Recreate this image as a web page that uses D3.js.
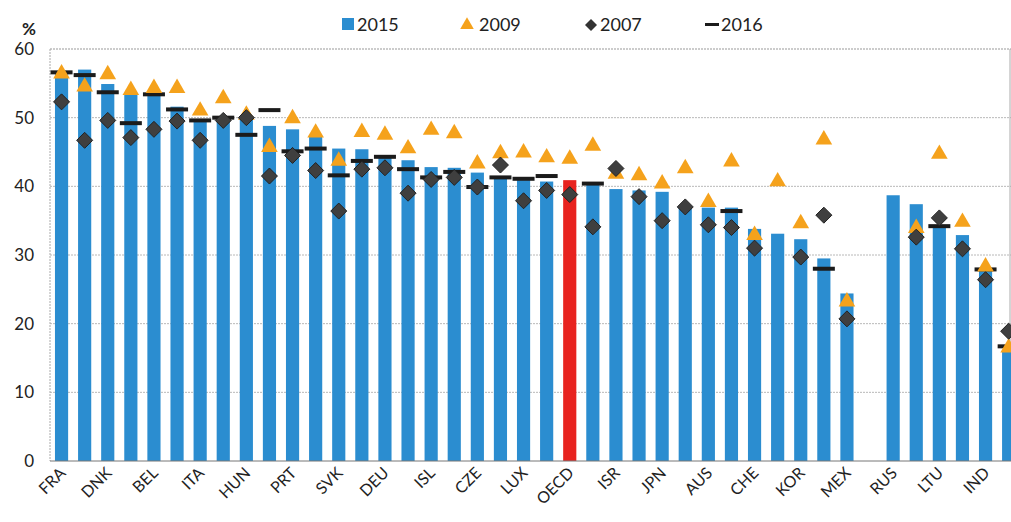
<!DOCTYPE html>
<html>
<head>
<meta charset="utf-8">
<script src="https://cdn.jsdelivr.net/npm/d3@7"></script>
<style>
  body { margin: 0; background: #fff; }
  text { font-family: Lato, "Open Sans", sans-serif; }
</style>
</head>
<body>
<svg id="chart"></svg>
<script>
// country codes, odd ones are not labelled on the axis
const countries = ["FRA","FIN","DNK","AUT","BEL","SWE","ITA","GRC","HUN","NOR","PRT","SVN","SVK","NLD","DEU","GBR","ISL","ESP","CZE","POL","LUX","EST","OECD","CAN","ISR","NZL","JPN","USA","AUS","LVA","CHE","TUR","KOR","IRL","MEX","","RUS","BRA","LTU","ZAF","IND","IDN"];
const v2015 = [56.7,57.0,54.9,53.3,53.5,51.6,49.8,50.1,49.8,48.8,48.3,47.2,45.5,45.4,44.3,43.8,42.8,42.7,42.0,41.2,40.9,40.7,40.9,40.4,39.6,39.4,39.2,37.1,36.9,36.9,33.8,33.1,32.3,29.5,24.4,null,38.7,37.4,34.0,32.9,27.8,16.2];
const v2009 = [56.4,54.5,56.3,54.0,54.3,54.3,51.0,52.8,50.4,45.7,49.9,47.8,43.7,47.9,47.5,45.5,48.2,47.7,43.3,44.8,44.9,44.2,44.0,45.9,41.8,41.6,40.4,42.6,37.7,43.6,32.9,40.7,34.6,46.8,23.2,null,null,33.9,44.7,34.8,28.3,16.5];
const v2007 = [52.3,46.7,49.6,47.1,48.3,49.5,46.7,49.6,50.0,41.5,44.5,42.3,36.4,42.5,42.7,39.0,41.0,41.3,39.9,43.1,37.9,39.4,38.8,34.1,42.6,38.5,35.0,37.0,34.4,34.0,31.0,null,29.7,35.8,20.7,null,null,32.6,35.4,30.9,26.4,18.9];
const v2016 = [56.6,56.2,53.7,49.2,53.4,51.2,49.6,50.0,47.5,51.1,45.1,45.5,41.6,43.7,44.3,42.5,41.3,42.1,39.9,41.3,41.1,41.5,null,40.4,null,null,null,null,null,36.4,null,null,null,28.0,null,null,null,null,34.2,null,27.9,16.7];
const yTicks = [0,10,20,30,40,50,60];

const w = 1011;
const h = 522;
const padLeft = 50;
const padTop = 49;
const padBottom = 461;

const rows = countries.map((c, i) => ({
  name: c, key: i, v15: v2015[i], v09: v2009[i], v07: v2007[i], v16: v2016[i]
}));

const svg = d3.select("#chart")
  .attr("width", w)
  .attr("height", h);

const x = d3.scaleBand()
  .domain(rows.map(d => d.key))
  .range([padLeft, padLeft + 23.1 * rows.length])
  .paddingInner(0.43)
  .paddingOuter(0.215);

const y = d3.scaleLinear()
  .domain([0, 60])
  .range([padBottom, padTop]);

const cx = d => x(d.key) + x.bandwidth() / 2;

// grid
svg.append("g")
  .selectAll("line")
  .data(yTicks.filter(t => t > 0 && t < 60))
  .enter()
  .append("line")
  .attr("x1", padLeft)
  .attr("x2", w)
  .attr("y1", d => y(d))
  .attr("y2", d => y(d))
  .attr("stroke", "#b8b8b8")
  .attr("stroke-width", 1)
  .attr("stroke-dasharray", "2,1");

// frame
svg.append("line")
  .attr("x1", padLeft).attr("x2", w)
  .attr("y1", y(60)).attr("y2", y(60))
  .attr("stroke", "#999").attr("stroke-dasharray", "2,1");
svg.append("line")
  .attr("x1", padLeft).attr("x2", padLeft)
  .attr("y1", y(60)).attr("y2", y(0))
  .attr("stroke", "#aaa").attr("stroke-dasharray", "2,1");
svg.append("line")
  .attr("x1", w - 1).attr("x2", w - 1)
  .attr("y1", y(60)).attr("y2", y(0))
  .attr("stroke", "#aaa");

// bars
svg.append("g")
  .selectAll("rect")
  .data(rows.filter(d => d.v15 != null))
  .enter()
  .append("rect")
  .attr("x", d => x(d.key))
  .attr("y", d => y(d.v15))
  .attr("width", x.bandwidth())
  .attr("height", d => y(0) - y(d.v15))
  .attr("fill", d => d.name === "OECD" ? "#e8231f" : "#2b8dd0");

// x axis line
svg.append("line")
  .attr("x1", padLeft).attr("x2", w)
  .attr("y1", y(0)).attr("y2", y(0))
  .attr("stroke", "#777");

// 2016 dashes
svg.append("g")
  .selectAll("rect")
  .data(rows.filter(d => d.v16 != null))
  .enter()
  .append("rect")
  .attr("x", d => cx(d) - 11)
  .attr("y", d => y(d.v16) - 2)
  .attr("width", 22)
  .attr("height", 4)
  .attr("fill", "#1b1b1b");

// 2009 triangles
const tri = d3.symbol().type(d3.symbolTriangle).size(120);
svg.append("g")
  .selectAll("path")
  .data(rows.filter(d => d.v09 != null))
  .enter()
  .append("path")
  .attr("d", tri)
  .attr("transform", d => `translate(${cx(d)},${y(d.v09)})`)
  .attr("fill", "#f5a21c");

// 2007 diamonds
svg.append("g")
  .selectAll("path")
  .data(rows.filter(d => d.v07 != null))
  .enter()
  .append("path")
  .attr("d", "M0,-8L8,0L0,8L-8,0Z")
  .attr("transform", d => `translate(${cx(d)},${y(d.v07)})`)
  .attr("fill", "#3f3f3f")
  .attr("stroke", "#222")
  .attr("stroke-width", 1);

// y axis labels
svg.append("g")
  .selectAll("text")
  .data(yTicks)
  .enter()
  .append("text")
  .attr("x", 34)
  .attr("y", d => y(d) + 6)
  .attr("text-anchor", "end")
  .attr("font-size", 17)
  .attr("fill", "#222")
  .text(d => d);

svg.append("text")
  .attr("x", 22)
  .attr("y", 35)
  .attr("font-size", 17)
  .attr("font-weight", 700)
  .attr("fill", "#222")
  .text("%");

// x axis labels, every other category, rotated through a wrapper group
const labelKeys = rows.filter((d, i) => i % 2 === 0);
const lab = svg.append("g")
  .selectAll("g")
  .data(labelKeys)
  .enter()
  .append("g")
  .attr("transform", d => `translate(${cx(d) + 5},${y(0) + 13}) rotate(-45)`);
lab.append("text")
  .attr("x", 0)
  .attr("y", 0)
  .attr("text-anchor", "end")
  .attr("font-size", 16)
  .attr("fill", "#222")
  .text(d => d.name);

// legend
const legend = svg.append("g").attr("font-size", 18).attr("fill", "#222");
legend.append("rect").attr("x", 342).attr("y", 18).attr("width", 12).attr("height", 12).attr("fill", "#2b8dd0");
legend.append("text").attr("x", 357).attr("y", 31).text("2015");
legend.append("path").attr("d", d3.symbol().type(d3.symbolTriangle).size(80))
  .attr("transform", "translate(467,25)").attr("fill", "#f5a21c");
legend.append("text").attr("x", 479).attr("y", 31).text("2009");
legend.append("path").attr("d", "M0,-6L6,0L0,6L-6,0Z")
  .attr("transform", "translate(591,25)").attr("fill", "#333");
legend.append("text").attr("x", 600).attr("y", 31).text("2007");
legend.append("rect").attr("x", 705).attr("y", 23).attr("width", 14).attr("height", 3).attr("fill", "#1b1b1b");
legend.append("text").attr("x", 721).attr("y", 31).text("2016");
</script>
</body>
</html>
